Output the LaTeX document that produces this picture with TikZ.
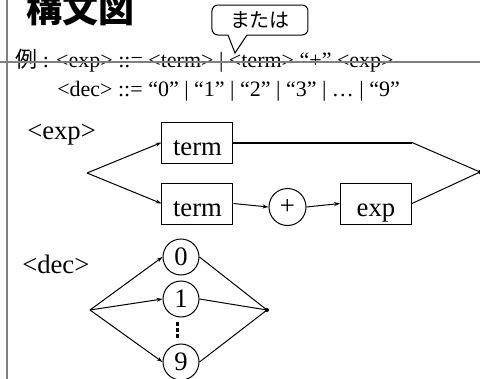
\documentclass[tikz,border=0pt]{standalone}
\usepackage{fontspec}
\setmainfont{Liberation Serif}
\newfontfamily\jp{Noto Sans CJK JP}
\usetikzlibrary{arrows.meta}
\begin{document}
\begin{tikzpicture}[x=0.75pt,y=-0.75pt,
  box/.style={draw,line width=0.75pt,minimum width=53.25pt,minimum height=30.75pt,inner sep=0pt,text height=20pt,text depth=0pt,font=\fontsize{20}{20}\selectfont},
  circ/.style={draw,circle,line width=0.75pt,minimum size=27pt,inner sep=0pt,font=\fontsize{20}{20}\selectfont},
  conn/.style={line width=0.75pt},
  arr/.style={conn,-{Stealth[length=4.5pt,width=3pt]}},
  junc/.style={circle,fill=black,inner sep=0pt,minimum size=3pt},
  txt/.style={inner sep=0pt,anchor=base west,font=\fontsize{16.5}{16.5}\selectfont},
  lbl/.style={inner sep=0pt,anchor=base west,font=\fontsize{20}{20}\selectfont}]
\useasboundingbox (0,0) rectangle (480,379);
% slide guide lines
\draw[gray,line width=1.5pt] (7.5,0) -- (7.5,379);
% title
\node[inner sep=0pt,anchor=west,font=\jp\bfseries\fontsize{27}{27}\selectfont] (title) at (26,9) {構文図};
% grammar lines
\node[txt] (line1) at (15,67) {{\jp 例} : <exp> ::= <term> | <term> “+” <exp>};
\node[txt] (line2) at (57,96) {<dec> ::= “0” | “1” | “2” | “3” | … | “9”};
\draw[gray,line width=1.5pt] (0,62) -- (480,62);
% callout
\draw[line width=0.75pt,fill=white] (228,35) [rounded corners=4.5pt]-- (212,35) -- (212,5) -- (308,5) -- (308,35) [sharp corners]-- (247,35) -- (235,53) -- cycle;
\node[inner sep=0pt,font=\jp\fontsize{15}{15}\selectfont] (mataha) at (260,20) {または};
% exp diagram
\node[lbl] (explbl) at (27,139) {<exp>};
\coordinate (s1) at (87,173);
\node[box] (term1) at (197.5,142.5) {term};
\node[box] (term2) at (197.5,203.5) {term};
\node[circ,minimum size=27.75pt] (plus) at (287.5,207) {+};
\node[box] (exp) at (376,203.5) {exp};
\coordinate (c1) at (412,142.5);
\node[junc] (j1) at (480,172) {};
\draw[arr] (s1) -- (term1.west);
\draw[arr] (s1) -- (term2.west);
\draw[arr] (term2.east) -- (plus.west);
\draw[arr] (plus.east) -- (exp.west);
\draw[line width=1.5pt] (term1.east) -- (c1);
\draw[conn] (c1) -- (j1.center);
\draw[conn] (exp.east) -- (j1.center);
% dec diagram
\node[lbl] (declbl) at (22,273) {<dec>};
\coordinate (s2) at (90,310);
\node[circ] (d0) at (181,257) {0};
\node[circ] (d1) at (181,299) {1};
\node[circ] (d9) at (181,362) {9};
\node[junc] (j2) at (267,310) {};
\draw[arr] (s2) -- (d0.west);
\draw[arr] (s2) -- (d1.west);
\draw[arr] (s2) -- (d9.west);
\draw[conn] (d0.east) -- (j2.center);
\draw[conn] (d1.east) -- (j2.center);
\draw[conn] (d9.east) -- (j2.center);
\foreach \yy in {322,328,334} \fill (176.5,\yy) rectangle (179.5,\yy+3.5);
\end{tikzpicture}
\end{document}
